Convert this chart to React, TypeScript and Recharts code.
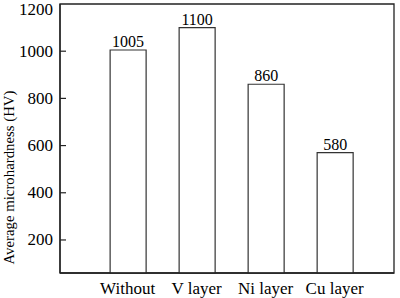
import React from "react";
import { BarChart, Bar, XAxis, YAxis, LabelList, ReferenceArea } from "recharts";

const categories = ["Without", "V layer", "Ni layer", "Cu layer"];
const hardness = [1005, 1100, 860, 570];
const valueLabels = ["1005", "1100", "860", "580"];
const yTicks = [200, 400, 600, 800, 1000, 1200];

const data = categories.map((name, i) => ({
  pos: i + 1,
  name,
  value: hardness[i],
  label: valueLabels[i],
}));

const font = "'Liberation Serif', 'Times New Roman', serif";
const ink = "#222";

// tick mark drawn inside the plot, label outside
const renderYTick = (props: any) => {
  const { x, y, payload } = props;
  const axisX = x + 7;
  return (
    <g key={`yt-${payload.value}`}>
      {payload.value !== 1200 && (
        <line x1={axisX} x2={axisX + 6} y1={y} y2={y} stroke={ink} strokeWidth={1.2} />
      )}
      <text x={x} y={y} dy={5.5} textAnchor="end" fill="#000" fontSize={17} fontFamily={font}>
        {payload.value}
      </text>
    </g>
  );
};

export default function App() {
  return (
    <div style={{ position: "absolute", left: 0, top: 0, background: "#fff" }}>
      <BarChart
        width={400}
        height={298}
        data={data}
        margin={{ top: 4, right: 6, left: 0, bottom: 0 }}
        barSize={36}
      >
        <ReferenceArea y1={60} y2={1200} fill="none" stroke={ink} strokeWidth={1.3} ifOverflow="visible" />
        <XAxis
          type="number"
          dataKey="pos"
          domain={[0.02, 4.86]}
          ticks={[1, 2, 3, 4]}
          tickFormatter={(v: number) => categories[v - 1]}
          axisLine={{ stroke: ink, strokeWidth: 1.3 }}
          tickLine={false}
          height={25}
          tick={{ fill: "#000", fontSize: 17, fontFamily: font }}
          tickMargin={3}
          interval={0}
        />
        <YAxis
          domain={[60, 1200]}
          ticks={yTicks}
          width={60}
          axisLine={{ stroke: ink, strokeWidth: 1.3 }}
          tickLine={false}
          tickSize={0}
          tickMargin={7}
          tick={renderYTick}
          label={{
            value: "Average microhardness (HV)",
            angle: -90,
            position: "center",
            dx: -21,
            dy: 39,
            style: { fill: "#000", fontSize: 14.8, fontFamily: font, textAnchor: "middle" },
          }}
        />
        <Bar dataKey="value" fill="#fff" stroke="#333" strokeWidth={1.2} isAnimationActive={false}>
          <LabelList
            dataKey="label"
            position="top"
            offset={3}
            style={{ fill: "#000", fontSize: 16, fontFamily: font }}
          />
        </Bar>
      </BarChart>
    </div>
  );
}
